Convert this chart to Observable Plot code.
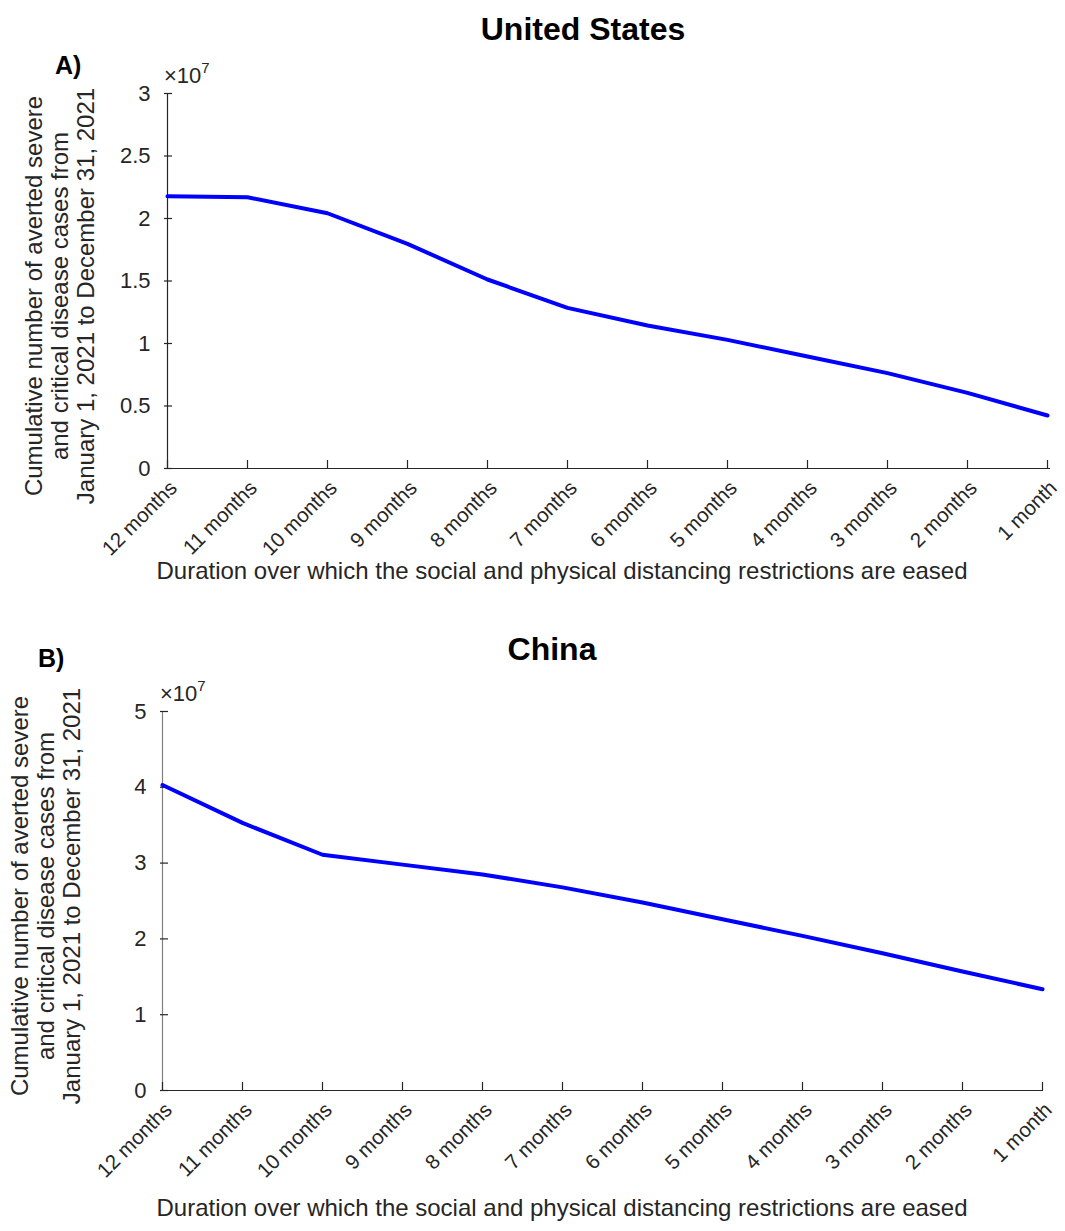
<!DOCTYPE html>
<html>
<head>
<meta charset="utf-8">
<script src="https://cdn.jsdelivr.net/npm/d3@7"></script>
<script src="https://cdn.jsdelivr.net/npm/@observablehq/plot@0.6"></script>
<style>
  html, body { margin: 0; padding: 0; background: #fff; }
  #root { position: relative; width: 1065px; height: 1231px; overflow: hidden; font-family: "Liberation Sans", Arial, sans-serif; color: #262626; }
  .abs { position: absolute; white-space: nowrap; }
  .title { font-weight: bold; font-size: 32px; color: #000; transform: translateX(-50%); }
  .panel { font-weight: bold; font-size: 25px; color: #000; }
  .exp { font-size: 22px; color: #262626; }
  .exp sup { font-size: 15px; position: relative; top: -2px; }
  .ylab { font-size: 24px; line-height: 26px; text-align: center; color: #262626; transform: translate(-50%, -50%) rotate(-90deg); }
  .xlab { font-size: 24px; color: #262626; transform: translateX(-50%); }
  .plot { position: absolute; left: 0; }
</style>
</head>
<body>
<div id="root"></div>
<script>
// ---- data ----
const months = ["12 months", "11 months", "10 months", "9 months", "8 months", "7 months",
                "6 months", "5 months", "4 months", "3 months", "2 months", "1 month"];
const usValues = [21780000, 21700000, 20420000, 17970000, 15120000, 12850000,
                  11440000, 10290000, 8960000, 7630000, 6050000, 4240000];
const chinaValues = [40300000, 35300000, 31100000, 29800000, 28500000, 26800000,
                     24800000, 22600000, 20400000, 18100000, 15700000, 13360000];
const usTicks = [0, 5e6, 10e6, 15e6, 20e6, 25e6, 30e6];
const chinaTicks = [0, 10e6, 20e6, 30e6, 40e6, 50e6];
const yLabelLines = ["Cumulative number of averted severe",
                     "and critical disease cases from",
                     "January 1, 2021 to December 31, 2021"];
const xLabelText = "Duration over which the social and physical distancing restrictions are eased";

const root = document.getElementById("root");

function addText(cls, html, left, top, extraStyle) {
  const d = document.createElement("div");
  d.className = "abs " + cls;
  d.innerHTML = html;
  d.style.left = left + "px";
  d.style.top = top + "px";
  if (extraStyle) Object.assign(d.style, extraStyle);
  root.appendChild(d);
  return d;
}

function panel(cfg) {
  const data = months.map((m, i) => ({month: m, value: cfg.values[i]}));
  const frameH = cfg.height - cfg.mt - cfg.mb;
  const frameW = 1065 - cfg.ml - cfg.mr;
  const chart = Plot.plot({
    width: 1065,
    height: cfg.height,
    marginLeft: cfg.ml, marginRight: cfg.mr, marginTop: cfg.mt, marginBottom: cfg.mb,
    style: {fontFamily: "'Liberation Sans', Arial, sans-serif", fontSize: "20px", color: "#262626", overflow: "visible", background: "transparent"},
    x: {type: "point", domain: months, padding: 0, axis: null},
    y: {domain: [0, cfg.ticks[cfg.ticks.length - 1]], axis: null},
    marks: [
      // axis lines
      Plot.ruleY([0], {stroke: "#262626", strokeWidth: 1.2}),
      Plot.ruleX([months[0]], {stroke: cfg.yAxisColor, strokeWidth: 1.2}),
      // inward ticks
      Plot.tickX(months, {x: d => d, insetTop: frameH - 8, stroke: "#262626", strokeWidth: 1.2}),
      Plot.tickY(cfg.ticks, {y: d => d, insetRight: frameW - 8, stroke: "#262626", strokeWidth: 1.2}),
      // tick labels
      Plot.axisX(months, {tickSize: 0, tickPadding: 13, tickRotate: -45, fontSize: 20.5, dx: 6, dy: 3, label: null}),
      Plot.axisY(cfg.ticks, {tickSize: 0, tickPadding: 14, fontSize: 22, label: null,
                             tickFormat: d => String(d / 1e7)}),
      // the series
      Plot.line(data, {x: "month", y: "value", stroke: "#0000ff", strokeWidth: 4})
    ]
  });
  chart.classList.add("plot");
  chart.style.top = cfg.top + "px";
  root.appendChild(chart);
}

// Panel A
panel({values: usValues, ticks: usTicks, top: 0, height: 610, ml: 164, mr: 15, mt: 93, mb: 142, yAxisColor: "#262626"});
addText("title", "United States", 583, 11);
addText("panel", "A)", 55, 51);
addText("exp", "×10<sup>7</sup>", 164, 61);
addText("ylab", yLabelLines.join("<br>"), 60, 296);
addText("xlab", xLabelText, 562, 557);

// Panel B
panel({values: chinaValues, ticks: chinaTicks, top: 610, height: 621, ml: 160, mr: 22, mt: 101, mb: 141, yAxisColor: "#808080"});
addText("title", "China", 552, 631);
addText("panel", "B)", 38, 644);
addText("exp", "×10<sup>7</sup>", 160, 679);
addText("ylab", yLabelLines.join("<br>"), 46, 896);
addText("xlab", xLabelText, 562, 1194);
</script>
</body>
</html>
